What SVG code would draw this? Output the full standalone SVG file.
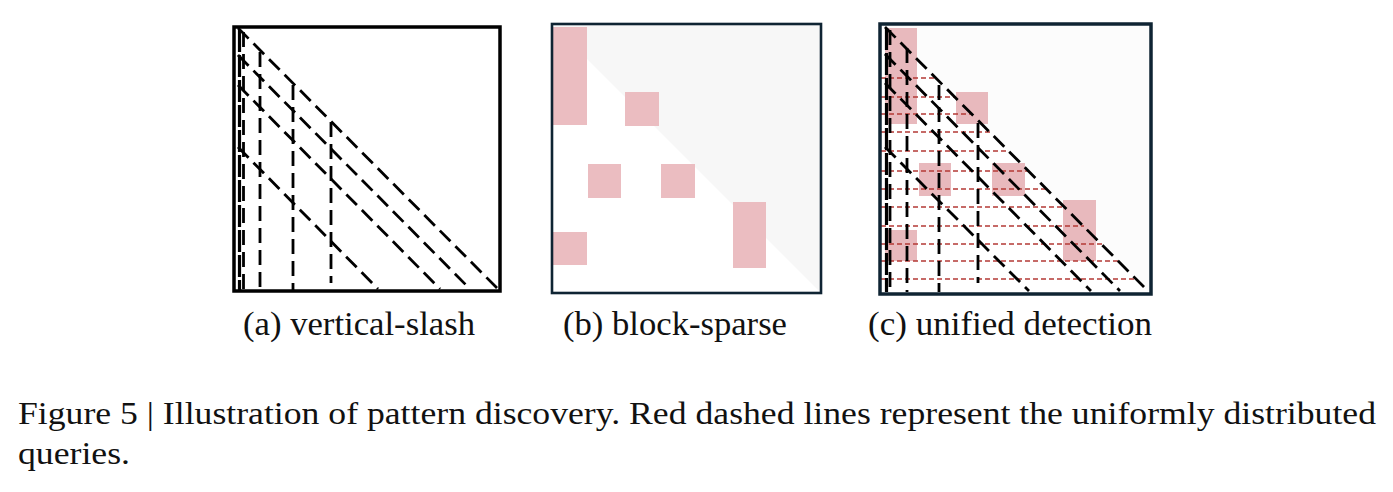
<svg xmlns="http://www.w3.org/2000/svg" width="1393" height="492" viewBox="0 0 1393 492">
<style>
.cap{font-family:'Liberation Serif','Times New Roman',Times,serif;fill:#111}
.blk{stroke:#000;stroke-width:2.8;stroke-dasharray:15 7;fill:none}
.blkL{stroke:#000;stroke-width:3.2;stroke-dasharray:22 3;fill:none}
.red{stroke:#b43a36;stroke-width:1.5;stroke-dasharray:5 3;fill:none}
.pink{fill:#ebbdc1}
.pinkc{fill:#e4adb2;opacity:0.85}
.frame{fill:none;stroke:#0f2433}
</style>
<rect width="1393" height="492" fill="#fff"/>

<g id="panel-a">
<rect x="234" y="27" width="266" height="264" fill="#fff" stroke="#000" stroke-width="3.5"/>
<line class="blkL" x1="239.5" y1="30" x2="239.5" y2="290"/>
<line class="blk" x1="243.5" y1="32" x2="243.5" y2="290"/>
<line class="blk" x1="238" y1="28" x2="498" y2="289"/>
<line class="blk" x1="238" y1="55" x2="470" y2="289"/>
<line class="blk" x1="238" y1="85" x2="440" y2="289"/>
<line class="blk" x1="238" y1="147" x2="378" y2="289"/>
<line class="blk" x1="260" y1="52" x2="260" y2="290"/>
<line class="blk" x1="293" y1="85" x2="293" y2="290"/>
<line class="blk" x1="331" y1="122" x2="331" y2="283"/>
</g>

<g id="panel-b">
<rect x="552" y="24" width="269" height="269" fill="#fff"/>
<polygon points="552,24 821,24 821,293" fill="#f7f7f7"/>
<rect class="pink" x="553" y="27" width="34" height="98"/>
<rect class="pink" x="625" y="92" width="34" height="34"/>
<rect class="pink" x="588" y="164" width="33" height="34"/>
<rect class="pink" x="661" y="164" width="34" height="34"/>
<rect class="pink" x="733" y="202" width="33" height="66"/>
<rect class="pink" x="553" y="232" width="34" height="33"/>
<rect class="frame" x="552" y="24" width="269" height="269" stroke-width="2.6"/>
</g>

<g id="panel-c">
<rect x="880" y="24" width="271" height="270" fill="#fff"/>
<polygon points="880,24 1151,24 1151,294" fill="#fcfcfc"/>
<rect class="pinkc" x="885" y="28" width="32" height="96"/>
<rect class="pinkc" x="956" y="92" width="32" height="32"/>
<rect class="pinkc" x="919" y="163" width="32" height="33"/>
<rect class="pinkc" x="992" y="163" width="33" height="33"/>
<rect class="pinkc" x="1063" y="200" width="33" height="61"/>
<rect class="pinkc" x="885" y="230" width="32" height="31"/>
<g id="queries">
<line class="red" x1="881" y1="78" x2="936" y2="78"/>
<line class="red" x1="881" y1="97" x2="955" y2="97"/>
<line class="red" x1="881" y1="114" x2="972" y2="114"/>
<line class="red" x1="881" y1="132" x2="990" y2="132"/>
<line class="red" x1="881" y1="151" x2="1009" y2="151"/>
<line class="red" x1="881" y1="171" x2="1029" y2="171"/>
<line class="red" x1="881" y1="189" x2="1047" y2="189"/>
<line class="red" x1="881" y1="207" x2="1065" y2="207"/>
<line class="red" x1="881" y1="226" x2="1084" y2="226"/>
<line class="red" x1="881" y1="244" x2="1102" y2="244"/>
<line class="red" x1="881" y1="261" x2="1119" y2="261"/>
<line class="red" x1="881" y1="279" x2="1137" y2="279"/>
</g>
<line class="blkL" x1="886.5" y1="28" x2="886.5" y2="292"/>
<line class="blk" x1="890" y1="30" x2="890" y2="292"/>
<line class="blk" x1="885" y1="27" x2="1148" y2="291"/>
<line class="blk" x1="885" y1="54" x2="1120" y2="291"/>
<line class="blk" x1="885" y1="83" x2="1091" y2="291"/>
<line class="blk" x1="885" y1="147" x2="1029" y2="291"/>
<line class="blk" x1="907" y1="48" x2="907" y2="292"/>
<line class="blk" x1="939" y1="85" x2="939" y2="292"/>
<line class="blk" x1="978" y1="123" x2="978" y2="283"/>
<rect class="frame" x="880" y="24" width="271" height="270" stroke-width="3.5"/>
</g>

<g id="captions" font-family="'Liberation Serif', 'Times New Roman', serif">
<text class="cap" x="243" y="335" font-size="33" textLength="232" lengthAdjust="spacingAndGlyphs">(a) vertical-slash</text>
<text class="cap" x="563" y="335" font-size="33" textLength="224" lengthAdjust="spacingAndGlyphs">(b) block-sparse</text>
<text class="cap" x="868" y="335" font-size="33" textLength="284" lengthAdjust="spacingAndGlyphs">(c) unified detection</text>
<text class="cap" x="18" y="424" font-size="32" textLength="1358" lengthAdjust="spacingAndGlyphs">Figure 5 | Illustration of pattern discovery. Red dashed lines represent the uniformly distributed</text>
<text class="cap" x="18" y="464" font-size="32" textLength="112" lengthAdjust="spacingAndGlyphs">queries.</text>
</g>
</svg>
